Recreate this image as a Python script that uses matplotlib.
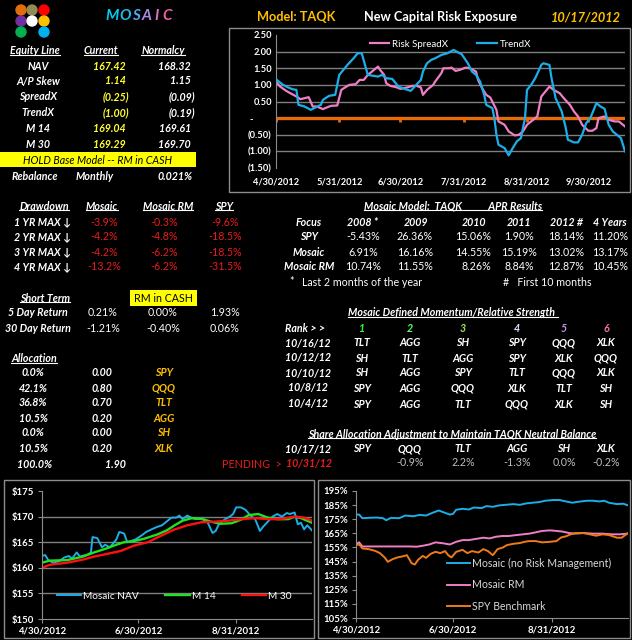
import matplotlib
matplotlib.use('Agg')
import matplotlib.pyplot as plt
from matplotlib.patches import Rectangle, Circle
from matplotlib.lines import Line2D

# ---- data ----
eq_labels = ['NAV', 'A/P Skew', 'SpreadX', 'TrendX', 'M 14', 'M 30']
eq_current = ['167.42', '1.14', '(0.25)', '(1.00)', '169.04', '169.29']
eq_normal = ['168.32', '1.15', '(0.09)', '(0.19)', '169.61', '169.70']

dd_labels = ['1 YR MAX \u2193', '2 YR MAX \u2193', '3 YR MAX \u2193', '4 YR MAX \u2193']
dd_mosaic = ['-3.9%', '-4.2%', '-4.2%', '-13.2%']
dd_rm = ['-0.3%', '-4.8%', '-6.2%', '-6.2%']
dd_spy = ['-9.6%', '-18.5%', '-18.5%', '-31.5%']

st_labels = ['5 Day Return', '30 Day Return']
st_mosaic = ['0.21%', '-1.21%']
st_rm = ['0.00%', '-0.40%']
st_spy = ['1.93%', '0.06%']

alloc_pct = ['0.0%', '42.1%', '36.8%', '10.5%', '0.0%', '10.5%']
alloc_wt = ['0.00', '0.80', '0.70', '0.20', '0.00', '0.20']
alloc_tk = ['SPY', 'QQQ', 'TLT', 'AGG', 'SH', 'XLK']

apr_years = ['2008 *', '2009', '2010', '2011', '2012 #', '4 Years']
apr_rows = ['SPY', 'Mosaic', 'Mosaic RM']
apr_spy = ['-5.43%', '26.36%', '15.06%', '1.90%', '18.14%', '11.20%']
apr_mosaic = ['6.91%', '16.16%', '14.55%', '15.19%', '13.02%', '13.17%']
apr_rm = ['10.74%', '11.55%', '8.26%', '8.84%', '12.87%', '10.45%']

rank_dates = ['10/16/12', '10/12/12', '10/10/12', '10/8/12', '10/4/12']
rank_table = [['TLT', 'AGG', 'SH', 'SPY', 'QQQ', 'XLK'],
              ['SH', 'TLT', 'AGG', 'SPY', 'XLK', 'QQQ'],
              ['SH', 'AGG', 'SPY', 'TLT', 'QQQ', 'XLK'],
              ['SPY', 'AGG', 'QQQ', 'XLK', 'TLT', 'SH'],
              ['SPY', 'AGG', 'TLT', 'QQQ', 'XLK', 'SH']]
adj_tickers = ['SPY', 'QQQ', 'TLT', 'AGG', 'SH', 'XLK']
adj_pending = ['', '-0.9%', '2.2%', '-1.3%', '0.0%', '-0.2%']

# risk exposure chart, x = calendar days after 4/30/2012
trend_days = [0, 3, 5, 8, 10, 11, 14, 17, 22, 23, 26, 29, 31, 35, 38, 40, 42, 45, 50, 52,
              54, 57, 58, 60, 63, 66, 68, 71, 72, 74, 76, 78, 81, 84, 87, 90, 91, 94, 96, 98,
              100, 102, 103, 106, 107, 108, 109, 112, 114, 116, 118, 120, 122, 123, 125, 127,
              130, 131, 134, 135, 137, 140, 142, 143, 146, 148, 150, 152, 154, 156, 157, 159,
              161, 163, 165, 167, 169, 171]
trend_vals = [1.17, 1.02, 0.95, 0.87, 0.85, 0.40, 0.35, 0.25, 0.40, 0.55, 0.67, 0.70, 1.30,
              1.60, 1.80, 1.95, 1.95, 1.30, 1.25, 1.30, 1.20, 1.18, 1.10, 0.95, 0.88, 0.82,
              0.95, 1.15, 1.40, 1.65, 1.75, 1.80, 1.90, 1.95, 2.05, 1.95, 1.92, 1.65, 1.40,
              1.30, 1.10, 0.70, 0.40, 0.30, 0.00, -0.50, -0.80, -0.90, -1.12, -0.90, -0.70,
              -0.60, 0.00, 0.85, 1.00, 1.20, 1.60, 1.65, 1.60, 1.20, 0.60, 0.20, -0.30, -0.65,
              -0.73, -0.73, -0.50, -0.15, 0.00, 0.30, 0.45, 0.35, 0.28, -0.20, -0.40, -0.50,
              -0.60, -1.00]
spread_days = [0, 2, 5, 7, 10, 12, 14, 16, 18, 20, 23, 24, 27, 30, 32, 34, 36, 39, 41, 43,
               45, 48, 50, 51, 53, 54, 56, 59, 61, 64, 67, 69, 71, 72, 74, 77, 78, 81, 82, 85,
               86, 88, 90, 93, 95, 98, 99, 101, 103, 105, 108, 109, 112, 114, 117, 119, 121,
               123, 126, 128, 130, 132, 134, 136, 139, 141, 144, 146, 148, 150, 153, 155, 157,
               158, 161, 163, 166, 168, 171]
spread_vals = [1.10, 0.95, 0.82, 0.75, 0.65, 0.57, 0.60, 0.63, 0.35, 0.35, 0.27, 0.30, 0.37,
               0.38, 0.85, 0.93, 1.00, 1.02, 1.15, 1.15, 1.30, 1.45, 1.55, 1.45, 1.30, 1.05,
               0.97, 0.93, 0.88, 0.92, 0.97, 0.97, 0.92, 0.70, 0.85, 1.00, 1.10, 1.35, 1.50,
               1.50, 1.52, 1.42, 1.45, 1.52, 1.50, 1.40, 1.15, 0.90, 0.70, 0.62, 0.25, -0.10,
               -0.20, -0.40, -0.52, -0.50, -0.40, -0.20, -0.05, 0.05, 0.65, 0.80, 0.95, 0.85,
               0.75, 0.60, 0.40, 0.20, 0.05, -0.20, -0.38, -0.38, -0.30, 0.00, 0.05, -0.05,
               -0.10, -0.10, -0.25]
risk_ticks = [0, 31, 61, 92, 123, 153]
risk_ticklabels = ['4/30/2012', '5/31/2012', '6/30/2012', '7/31/2012', '8/31/2012', '9/30/2012']
risk_yticks = [2.5, 2.0, 1.5, 1.0, 0.5, 0.0, -0.5, -1.0, -1.5]
risk_ylabels = ['2.50', '2.00', '1.50', '1.00', '0.50', '-        ', '(0.50)', '(1.00)', '(1.50)']

# NAV chart
nav_days = [0, 2, 4, 7, 11, 14, 17, 19, 22, 24, 29, 31, 32, 35, 38, 40, 43, 47, 49, 52, 54,
            57, 59, 63, 66, 70, 73, 76, 78, 82, 85, 87, 89, 92, 95, 98, 101, 103, 105, 108,
            110, 112, 116, 119, 121, 123, 126, 129, 132, 135, 138, 140, 143, 146, 149, 152,
            155, 157, 160, 162, 164, 166, 168, 171]
nav_vals = [162.3, 162.5, 161.5, 161.0, 161.3, 162.0, 162.3, 161.8, 163.0, 162.2, 162.6,
            163.0, 166.0, 165.8, 164.0, 164.5, 164.0, 165.5, 167.0, 166.7, 165.0, 165.3,
            165.5, 166.3, 167.0, 167.6, 168.0, 168.3, 168.8, 169.8, 169.8, 170.2, 169.5,
            170.2, 169.7, 169.5, 169.7, 169.2, 168.8, 166.8, 167.2, 168.5, 169.5, 170.0,
            170.5, 171.8, 171.8, 171.3, 170.2, 169.5, 167.2, 168.0, 169.0, 170.0, 170.5,
            170.0, 170.7, 170.5, 170.8, 168.5, 168.8, 167.5, 168.3, 167.3]
m14_days = [0, 5, 16, 26, 33, 41, 47, 52, 58, 65, 73, 79, 84, 89, 95, 102, 107, 113, 120,
            126, 131, 137, 143, 149, 156, 160, 164, 171]
m14_vals = [161.0, 161.4, 161.5, 162.2, 163.0, 163.8, 164.5, 165.0, 165.2, 165.7, 166.5,
            167.3, 168.3, 169.2, 169.7, 169.5, 169.0, 168.6, 168.7, 169.4, 170.3, 170.5,
            169.8, 169.5, 169.5, 170.0, 169.7, 168.8]
m30_days = [0, 5, 16, 26, 33, 41, 50, 58, 67, 75, 84, 92, 101, 109, 118, 126, 135, 143, 151,
            160, 166, 171]
m30_vals = [160.0, 160.6, 161.0, 161.6, 162.2, 162.7, 163.3, 164.3, 165.0, 166.2, 167.5,
            168.3, 168.9, 169.0, 169.2, 169.5, 169.7, 169.5, 169.5, 170.0, 169.8, 169.2]
nav_ticks = [0, 61, 123]
nav_ticklabels = ['4/30/2012', '6/30/2012', '8/31/2012']
nav_yticks = [150, 155, 160, 165, 170, 175]

# growth chart (percent of start)
mos_days = [0, 2, 4, 8, 13, 17, 19, 22, 27, 31, 36, 40, 44, 48, 52, 56, 59, 61, 63, 67, 71,
            74, 79, 82, 86, 90, 94, 99, 103, 107, 111, 115, 119, 124, 128, 132, 136, 140,
            145, 149, 153, 156, 159, 164, 168, 171]
mos_vals = [178.3, 178.3, 175.7, 176.0, 176.2, 175.7, 174.3, 176.0, 175.7, 177.6, 177.1,
            178.1, 177.6, 179.5, 181.2, 179.5, 178.3, 178.8, 181.7, 182.4, 181.9, 183.3,
            182.9, 184.3, 183.8, 184.8, 185.2, 185.7, 185.2, 186.2, 186.7, 187.1, 188.1,
            188.6, 188.6, 187.6, 186.7, 187.4, 188.1, 188.1, 187.6, 188.1, 186.7, 185.7,
            186.0, 184.8]
rm_days = [0, 2, 4, 17, 34, 38, 42, 46, 50, 55, 59, 63, 67, 71, 75, 80, 84, 88, 92, 96, 101,
           105, 109, 113, 117, 122, 126, 130, 134, 138, 143, 149, 155, 161, 166, 171]
rm_vals = [157.4, 158.6, 155.7, 155.7, 155.7, 155.5, 156.2, 157.1, 158.6, 157.9, 157.1,
           159.0, 160.2, 160.2, 161.0, 161.9, 161.4, 162.6, 163.1, 163.1, 163.8, 164.3,
           164.8, 165.7, 166.7, 167.1, 166.7, 166.2, 165.2, 164.8, 165.2, 164.8, 164.8,
           164.3, 164.3, 164.8]
spy_days = [0, 2, 4, 8, 12, 15, 18, 20, 23, 26, 29, 32, 35, 37, 39, 42, 44, 47, 50, 53, 56,
            58, 60, 63, 67, 70, 73, 77, 80, 83, 86, 89, 92, 95, 99, 103, 106, 109, 113, 117,
            122, 126, 129, 132, 135, 138, 143, 147, 151, 155, 159, 164, 167, 171]
spy_vals = [156.7, 157.1, 154.3, 153.8, 152.6, 151.0, 147.9, 144.8, 146.7, 147.9, 148.6,
            149.5, 143.8, 142.9, 146.2, 149.0, 147.6, 150.5, 151.9, 151.0, 152.4, 149.5,
            147.9, 151.9, 153.3, 151.0, 152.4, 151.4, 153.8, 152.4, 149.5, 153.8, 154.8,
            156.7, 157.6, 158.1, 159.0, 159.5, 159.5, 158.6, 159.0, 159.5, 162.1, 162.9,
            164.3, 165.2, 165.2, 164.3, 163.3, 164.3, 163.8, 161.9, 161.9, 165.2]
pct_yticks = [105, 115, 125, 135, 145, 155, 165, 175, 185, 195]

# ---- colours ----
BLUE = '#1CAEE8'
PINK = '#F07EC4'
ORANGE = '#E46C0A'
GOLD = '#FFC000'
YEL = '#FFFF33'
RED = '#E81C1C'
GRID = '#7f7f7f'
FRAME = '#8c8c8c'
FS = 7.7

W, H = 632, 640
plt.rcParams['font.family'] = ['Lato', 'DejaVu Sans']

fig = plt.figure(figsize=(W / 100, H / 100), dpi=100, facecolor='black')
underlined = []


def txt(x, y, s, ha='center', color='white', size=FS, bold=True, italic=True, ul=False):
    t = fig.text(x / W, 1 - y / H, s, ha=ha, va='center', color=color, fontsize=size,
                 fontweight='bold' if bold else 'normal',
                 fontstyle='italic' if italic else 'normal')
    if ul:
        underlined.append(t)
    return t


def box(x0, y0, x1, y1, **kw):
    fig.add_artist(Rectangle((x0 / W, 1 - y1 / H), (x1 - x0) / W, (y1 - y0) / H,
                             transform=fig.transFigure, **kw))


def px_axes(x0, y0, x1, y1):
    return fig.add_axes([x0 / W, 1 - y1 / H, (x1 - x0) / W, (y1 - y0) / H])


# ---- logo ----
lax = px_axes(12, 3, 52, 39)
lax.set_xlim(0, 40)
lax.set_ylim(36, 0)
lax.axis('off')
dots = [('#E46C0A', 9, 7), ('#948A54', 20, 7), ('#FF0000', 32, 7),
        ('#7030A0', 9, 18), ('#FFFFFF', 20, 18), ('#FFC000', 32, 18),
        ('#00B050', 9, 29), ('#00B0F0', 32, 29)]
for c, cx, cy in dots:
    lax.add_patch(Circle((cx, cy), 5, color=c))

for ch, x, c in zip('MOSAIC', [112, 125, 136, 147, 157, 167],
                    ['#00C8F0', '#20BCF0', '#50A8F0', '#A888E8', '#E070C8', '#F060A8']):
    txt(x, 16, ch, color=c, size=11)

# ---- top left table ----
txt(35, 51, 'Equity Line', ul=True)
txt(101, 51, 'Current', ul=True)
txt(163, 51, 'Normalcy', ul=True)
for i, y in enumerate([66, 81, 97, 113, 128, 144]):
    txt(38, y, eq_labels[i])
    c = eq_current[i]
    txt(129 if c.startswith('(') else 126, y, c, ha='right', color=YEL)
    n = eq_normal[i]
    txt(195 if n.startswith('(') else 191, y, n, ha='right')
box(0, 152, 196, 167, facecolor='#FFFF00', edgecolor='none')
txt(97, 160, 'HOLD Base Model -- RM in CASH', color='black', bold=False)
txt(35, 176, 'Rebalance')
txt(95, 176, 'Monthly')
txt(193, 176, '0.021%', ha='right')

# ---- header ----
txt(296, 17, 'Model: TAQK', color=GOLD, size=9.2, italic=False)
txt(440, 17, 'New Capital Risk Exposure', size=9.2, italic=False)
txt(586, 17, '10/17/2012', color=GOLD, size=9.2)

# ---- drawdown / short term / allocation ----
txt(44, 206, 'Drawdown', ul=True)
txt(102, 206, 'Mosaic', ul=True)
txt(168, 206, 'Mosaic RM', ul=True)
txt(224, 206, 'SPY', ul=True)
for i, y in enumerate([222, 237, 252, 267]):
    txt(43, y, dd_labels[i])
    txt(104, y, dd_mosaic[i], color=RED, bold=False, italic=False)
    txt(164, y, dd_rm[i], color=RED, bold=False, italic=False)
    txt(225, y, dd_spy[i], color=RED, bold=False, italic=False)

txt(45, 298, 'Short Term', ul=True)
box(130, 290, 197, 306, facecolor='#FFFF00', edgecolor='none')
txt(163, 298, 'RM in CASH', color='black', bold=False, italic=False)
for i, y in enumerate([313, 328]):
    txt(38, y, st_labels[i])
    txt(103, y, st_mosaic[i], bold=False, italic=False)
    txt(163, y, st_rm[i], bold=False, italic=False)
    txt(225, y, st_spy[i], bold=False, italic=False)

txt(34, 359, 'Allocation', ul=True)
for i, y in enumerate([373, 388, 403, 418, 433, 448]):
    txt(33, y, alloc_pct[i])
    txt(102, y, alloc_wt[i])
    txt(164, y, alloc_tk[i], color=GOLD)
txt(35, 464, '100.0%')
txt(115, 464, '1.90')
txt(252, 464, 'PENDING  >', color=RED, bold=False, italic=False)
txt(309, 464, '10/31/12', color=RED)

# ---- APR results ----
txt(364, 206, 'Mosaic Model:  TAQK           APR Results', ha='left', ul=True)
txt(309, 222, 'Focus')
apr_x = [363, 416, 474, 519, 566, 610]
for x, yr in zip(apr_x, apr_years):
    txt(x, 222, yr)
for row, vals, y in zip(apr_rows, [apr_spy, apr_mosaic, apr_rm], [237, 252, 267]):
    txt(309, y, row)
    for j, v in enumerate(vals):
        if j in (1, 2):
            txt([433, 491][j - 1], y, v, ha='right', bold=False, italic=False)
        else:
            txt(apr_x[j], y, v, bold=False, italic=False)
txt(292, 282, '*', bold=False, italic=False)
txt(302, 282, 'Last 2 months of the year', ha='left', bold=False, italic=False)
txt(503, 282, '#   First 10 months', ha='left', bold=False, italic=False)

# ---- momentum ----
txt(453, 313, 'Mosaic Defined Momentum/Relative Strength ', ul=True)
rank_x = [362, 410, 463, 517, 564, 606]
txt(305, 328, 'Rank > >')
for k, (x, c) in enumerate(zip(rank_x, ['#33FF33', '#66FF66', '#A0E060', '#D8E4FF',
                                          '#C890E8', '#FF70B0'])):
    txt(x, 328, str(k + 1), color=c)
for d, row, y in zip(rank_dates, rank_table, [343, 358, 373, 388, 404]):
    txt(308, y, d)
    for x, tk in zip(rank_x, row):
        txt(x, y, tk)

txt(452, 434, 'Share Allocation Adjustment to Maintain TAQK Neutral Balance', ul=True)
txt(308, 449, '10/17/12')
for x, tk, v in zip(rank_x, adj_tickers, adj_pending):
    txt(x, 449, tk)
    if v:
        txt(x, 463, v, color='#BFBFBF', bold=False, italic=False)

# ---- risk exposure chart ----
box(229, 28, 630, 192, facecolor='none', edgecolor=FRAME, lw=1)
ax1 = px_axes(276, 35, 625, 168)
ax1.set_facecolor('black')
for v in risk_yticks[1:-1]:
    if v != 0:
        ax1.axhline(v, color=GRID, lw=1, zorder=0)
ax1.axhline(0, color=ORANGE, lw=2.4, zorder=1)
ax1.vlines(risk_ticks, -0.12, 0, color=ORANGE, lw=2, zorder=1)
ax1.plot(spread_days, spread_vals, color=PINK, lw=1.6, label='Risk SpreadX', zorder=2)
ax1.plot(trend_days, trend_vals, color=BLUE, lw=1.6, label='TrendX', zorder=3)
ax1.set_xlim(0, 171)
ax1.set_ylim(-1.5, 2.5)
ax1.set_yticks(risk_yticks)
ax1.set_yticklabels(risk_ylabels)
ax1.set_xticks(risk_ticks)
ax1.set_xticklabels(risk_ticklabels)
for s in ['top', 'right', 'bottom']:
    ax1.spines[s].set_visible(False)
ax1.spines['left'].set_color(FRAME)
ax1.tick_params(axis='y', length=0, pad=3, colors='white', labelsize=6.7)
ax1.tick_params(axis='x', length=0, pad=7, colors='white', labelsize=6.7)
for lbl in ax1.get_xticklabels() + ax1.get_yticklabels():
    lbl.set_fontweight('bold')
ax1.legend(loc='upper center', bbox_to_anchor=(0.5, 1.03), ncol=2, frameon=False,
           fontsize=7, labelcolor='white', handlelength=2.0, columnspacing=3.0,
           handletextpad=0.3)

# ---- NAV chart ----
box(4, 480, 314, 638, facecolor='none', edgecolor=FRAME, lw=1)
ax2 = px_axes(42, 491, 312, 619)
ax2.set_facecolor('black')
for v in nav_yticks[1:-1]:
    ax2.axhline(v, color=GRID, lw=1, zorder=0)
ax2.plot(nav_days, nav_vals, color=BLUE, lw=1.4, label='Mosaic NAV')
ax2.plot(m14_days, m14_vals, color='#22E022', lw=1.7, label='M 14')
ax2.plot(m30_days, m30_vals, color='#FF1010', lw=1.7, label='M 30')
ax2.set_xlim(0, 171)
ax2.set_ylim(150, 175)
ax2.set_yticks(nav_yticks)
ax2.set_yticklabels(['$%d' % v for v in nav_yticks])
ax2.set_xticks(nav_ticks)
ax2.set_xticklabels(nav_ticklabels)

# ---- growth chart ----
box(318, 480, 630, 638, facecolor='none', edgecolor=FRAME, lw=1)
ax3 = px_axes(356, 491, 628, 618)
ax3.set_facecolor('black')
ax3.plot(mos_days, mos_vals, color=BLUE, lw=1.4, label='Mosaic (no Risk Management)')
ax3.plot(rm_days, rm_vals, color=PINK, lw=1.4, label='Mosaic RM')
ax3.plot(spy_days, spy_vals, color='#F07A18', lw=1.4, label='SPY Benchmark')
ax3.set_xlim(0, 171)
ax3.set_ylim(105, 195)
ax3.set_yticks(pct_yticks)
ax3.set_yticklabels(['%d%%' % v for v in pct_yticks])
ax3.set_xticks(nav_ticks)
ax3.set_xticklabels(nav_ticklabels)

for ax in (ax2, ax3):
    for s in ['top', 'right']:
        ax.spines[s].set_visible(False)
    ax.spines['left'].set_color(FRAME)
    ax.spines['bottom'].set_color(FRAME)
    ax.tick_params(length=3, color=FRAME, colors='white', labelsize=6.9)
    ax.tick_params(axis='x', pad=2.5)
    ax.tick_params(axis='y', pad=3)
    for lbl in ax.get_xticklabels() + ax.get_yticklabels():
        lbl.set_fontweight('bold')

ax2.legend(loc='lower center', bbox_to_anchor=(0.49, 0.07), ncol=3, frameon=False,
           fontsize=7.3, labelcolor='white', handlelength=2.4, columnspacing=2.6,
           handletextpad=0.2)
ax3.legend(loc='upper left', bbox_to_anchor=(0.30, 0.55), frameon=False, fontsize=7.6,
           labelcolor='#D9D9D9', handlelength=2.2, labelspacing=1.0, handletextpad=0.2)

# ---- underlines ----
fig.canvas.draw()
r = fig.canvas.get_renderer()
for t in underlined:
    bb = t.get_window_extent(r)
    fig.add_artist(Line2D([bb.x0 / W, bb.x1 / W], [(bb.y0 + 1.5) / H] * 2,
                          transform=fig.transFigure, color=t.get_color(), lw=0.8))

fig.savefig('out.png', dpi=100, facecolor='black')
